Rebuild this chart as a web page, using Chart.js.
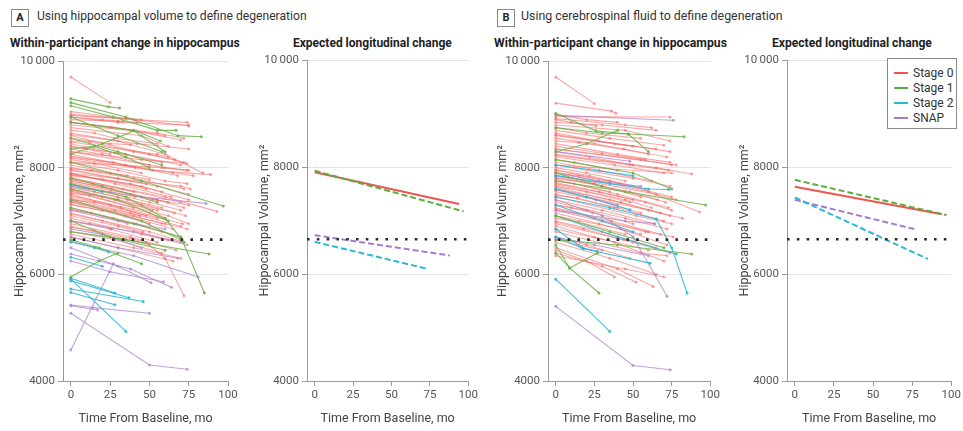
<!DOCTYPE html>
<html><head><meta charset="utf-8">
<script src="https://cdn.jsdelivr.net/npm/chart.js@4.4.1/dist/chart.umd.min.js"></script>
<style>
html,body{margin:0;padding:0;background:#fff;}
#wrap{position:relative;width:963px;height:431px;overflow:hidden;background:#fff;font-family:Roboto,"Liberation Sans",sans-serif;color:#222;}
canvas{position:absolute;top:50px;}
.t{position:absolute;white-space:nowrap;line-height:1;}
.box{position:absolute;width:16px;height:16px;border:1px solid #888;font-weight:bold;font-size:11px;text-align:center;line-height:16px;color:#222;}
#legend{position:absolute;left:887px;top:58px;width:68px;height:69px;border:1px solid #8a8a8a;background:#fff;}
.li{position:absolute;left:6px;height:14px;font-size:12px;line-height:14px;color:#333;}
.li span{display:inline-block;width:14px;height:2px;vertical-align:middle;margin-right:5px;position:relative;top:-1px;}
</style></head>
<body>
<div id="wrap">
  <div class="box" style="left:11px;top:9px;">A</div>
  <div class="box" style="left:497px;top:9px;">B</div>
  <canvas id="cA1" width="240" height="381" style="left:0px"></canvas>
  <canvas id="cA2" width="240" height="381" style="left:240px"></canvas>
  <canvas id="cB1" width="240" height="381" style="left:482px"></canvas>
  <canvas id="cB2" width="241" height="381" style="left:722px"></canvas>
  <div id="legend"></div>
</div>
<script>
// ---------------- DATA ----------------
const xTicks = [0, 25, 50, 75, 100];
const yTicks = [4000, 6000, 8000, 10000];
const threshold = 6650;
const stageNames = ['Stage 0', 'Stage 1', 'Stage 2', 'SNAP'];

// Individual trajectories: [month, volume, month, volume, ...]
const A_stage0 = [
 [0,9700,25,9220],[0,9050,27,8950,45,8900],[0,9000,40,8900,74,8850],[0,8980,35,8920,75,8780],
 [0,8950,30,8850,75,8800],[0,8950,20,8900,33,8870],[0,8900,30,8870,42,8850],[0,8850,26,8760,60,8600],[0,8850,55,8650,72,8550],
 [0,8800,38,8700,70,8520],[0,8750,45,8600,62,8400],[0,8700,15,8650,28,8550,55,8450],[0,8650,30,8500,60,8250,84,7900],
 [0,8620,42,8450,75,8350],[0,8600,50,8250,72,8100],[0,8550,25,8450,38,8430],[0,8500,12,8480,40,8300,66,8150],[0,8480,55,8250,62,8200],[0,8450,28,8280,58,8100],
 [0,8400,35,8250,70,8050],[0,8400,10,8350,25,8250],[0,8350,20,8250,50,8050],[0,8300,60,8000,74,7950],
 [0,8300,45,8150,74,8080],[0,8250,35,8050,68,7850],[0,8220,65,7900,78,7850],[0,8200,27,8100,41,8000],[0,8180,52,7950,89,7870],
 [0,8150,15,8080,45,7900],[0,8100,30,7950,60,7750,74,7700],[0,8100,58,8000,75,7950],[0,8050,25,7900,50,7780],
 [0,8000,40,7800,72,7600],[0,7980,13,7950,36,7850],[0,7960,30,7800,48,7700],[0,7950,55,7650,75,7500],[0,7900,28,7700,64,7450],
 [0,7900,70,7650,76,7600],[0,7880,45,7650,58,7550],[0,7870,38,7700,75,7400],[0,7850,20,7780,48,7600],[0,7820,33,7600,70,7350],
 [0,7800,60,7450,93,7180],[0,7780,14,7700,40,7550],[0,7760,55,7400,72,7250],[0,7750,26,7600,52,7400,75,7300],[0,7720,38,7500,62,7350],
 [0,7700,50,7350,70,7200],[0,7680,25,7550,41,7450],[0,7650,36,7400,73,7100],[0,7620,15,7550,30,7450,58,7250],
 [0,7600,45,7300,66,7150],[0,7580,28,7400,55,7200],[0,7560,20,7450,52,7200],[0,7550,62,7100,75,6950],[0,7520,12,7480,40,7250],
 [0,7500,32,7250,71,6950],[0,7480,50,7150,60,7050],[0,7450,25,7300,48,7100],[0,7420,38,7150,70,6900],
 [0,7400,15,7350,55,7050],[0,7380,28,7200,44,7100],[0,7360,40,7100,58,6950],[0,7350,60,6950,74,6850],[0,7320,35,7100,65,6850],
 [0,7300,20,7200,50,6950],[0,7250,42,6950,70,6700],[0,7220,27,7050,58,6800],[0,7200,13,7150,36,6950],
 [0,7150,50,6800,72,6600],[0,7130,20,7000,46,6800],[0,7100,30,6900,62,6650],[0,7050,45,6750,74,6550],[0,7000,25,6850,55,6600],
 [0,7000,12,6950,26,6850],[0,6950,38,6700,67,6450],[0,6900,50,6550,60,6300,72,5600],[0,6880,15,6820,48,6600],
 [0,6800,28,6650,58,6400],[0,6750,40,6500,70,6300],[0,6700,30,6500,65,6250]
];
const A_stage1 = [
 [0,9290,24,9140,31,9120],[0,9220,35,8950,68,8600,83,8580],[0,9160,27,8950,55,8700,67,8700],
 [0,8950,30,8600,58,8300],[0,8850,40,8700,57,8500],[0,8550,30,8300,58,8050],[0,8350,15,8400,35,8200,50,8000],
 [0,8250,20,8450,40,8690,60,8300],[0,8100,45,7750,97,7280],[0,7800,20,7650,55,7350],
 [0,7700,35,7450,60,7050,72,6600],[0,7600,30,7400,62,7000],[0,7400,45,7000,70,6650],
 [0,7250,40,6950,70,6700,85,5650],[0,7000,25,6700,60,6450],[0,6800,35,6650,88,6380],
 [0,6650,18,6500,45,6200],[0,5950,18,6250,30,6400]
];
const A_stage2 = [
 [0,7680,20,7550],[0,6620,15,6500,24,6420],[0,6320,20,6150],[0,5925,28,5650],
 [0,5910,35,4930],[0,5880,37,5560],[0,5725,46,5490],[0,5660,28,5430]
];
const A_snap = [
 [0,7650,45,7450,86,7330],[0,7200,30,7000,60,6850],[0,7000,40,6800,70,6600],[0,6850,20,6750,45,6500],
 [0,6700,30,6500,68,6300],[0,6600,40,6350,81,5950],[0,6500,30,6150,51,5840],[0,6380,38,6100,64,5760],
 [0,6250,25,6050,59,5860],[0,5425,14,5375,50,5270],[0,5410,17,5330],[0,5270,50,4300,74,4220],[0,4580,27,6200]
];

const B_stage0 = [
 [0,9700,25,9200],[0,9210,36,9060,39,9020],[0,9000,20,8900,40,8850],[0,8960,74,8950],[0,8920,45,8800,62,8750],
 [0,8900,10,8850,26,8780],[0,8850,30,8800,65,8700],[0,8800,45,8700,74,8500],[0,8750,20,8650,55,8550],
 [0,8700,35,8550,70,8420],[0,8650,28,8500,74,8300],[0,8620,38,8450,65,8350],[0,8600,50,8400],[0,8550,25,8450,60,8250],
 [0,8500,15,8470,44,8350,72,8200],[0,8450,40,8250,74,8100],[0,8400,30,8270,58,8150],[0,8350,78,8050],
 [0,8350,55,8150,75,8050],[0,8300,22,8200,50,8050],[0,8250,65,8000,88,7880],[0,8230,48,8050,73,7950],[0,8200,38,8050,70,7900],
 [0,8150,12,8100,40,7950],[0,8100,28,7950,62,7750],[0,8050,75,7900],[0,8050,50,7800,74,7650],
 [0,8000,20,7900,45,7750],[0,7960,22,7850,58,7600],[0,7950,35,7750,75,7450],[0,7920,60,7550,93,7170],[0,7900,15,7850,42,7700],
 [0,7860,65,7500,78,7400],[0,7850,30,7650,66,7400],[0,7820,48,7550,71,7350],[0,7800,25,7700,55,7450],[0,7780,40,7500,73,7250],
 [0,7750,12,7700,35,7550],[0,7720,58,7350,75,7200],[0,7700,28,7550,50,7400],[0,7680,45,7400,62,7250],
 [0,7650,20,7550,48,7350],[0,7630,42,7350,68,7150],[0,7600,35,7400,74,7100],[0,7580,60,7200,82,7050],[0,7550,26,7400,55,7150],
 [0,7500,40,7250,70,7000],[0,7480,14,7430,38,7250],[0,7450,52,7100,75,6950],[0,7400,30,7200,64,6950],
 [0,7350,45,7050,72,6850],[0,7300,20,7200,50,6950],[0,7300,10,7250,24,7150],[0,7250,36,7000,68,6750],[0,7230,25,7050,60,6800],
 [0,7200,58,6800,76,6700],[0,7150,28,6950,55,6750],[0,7100,42,6850,72,6550],[0,7050,15,6980,45,6750],
 [0,7000,30,6800,65,6500],[0,6980,18,6850,44,6650],[0,6950,50,6600,74,6400],[0,6900,25,6700,60,6450],[0,6850,38,6600,70,6250],
 [0,6800,55,6400,72,6350],[0,6700,20,6550,48,6300],[0,6650,15,6550,30,6450],[0,6600,35,6300,65,6000],
 [0,6500,40,6100,63,5770],[0,6450,20,6250,38,5950],[0,6400,30,6150,52,5850],[0,6350,45,6100,70,5950]
];
const B_stage1 = [
 [0,9020,26,8690,47,8630,83,8580],[0,8750,30,8650,47,8630,60,8300],[0,8300,20,8450,40,8700],
 [0,8150,50,7900,75,7600],[0,7900,30,7650],[0,7750,45,7550,97,7300],[0,7100,35,6800,70,6500],
 [0,6650,40,6550,88,6380],[0,6550,9,6120,27,6400],[0,6400,9,6120,28,5650]
];
const B_stage2 = [
 [0,8050,50,7850],[0,7850,35,7700,60,7600,73,7590],[0,7600,20,7450,48,7210],
 [0,7450,35,7250,65,7040,75,6500,85,5650],[0,7300,30,7000,50,6800],[0,7100,40,6700,78,6380],
 [0,6850,17,6500,27,6430],[0,6700,18,6480,61,6210],[0,5910,35,4930]
];
const B_snap = [
 [0,8980,76,8890],[0,8300,48,8120],[0,7900,28,7750,55,7650],[0,7600,40,7300],
 [0,7400,30,7100,50,6700,72,5590],[0,7200,45,7000,64,6950],[0,6700,25,6550,60,6350],
 [0,5400,50,4290,74,4210]
];

// Expected longitudinal change (fitted lines): [[month, volume], [month, volume]]
const A_exp_stage0 = [[0,7900],[94,7310]];
const A_exp_stage1 = [[0,7930],[97,7170]];
const A_exp_stage2 = [[0,6600],[73,6100]];
const A_exp_snap   = [[0,6725],[88,6345]];
const B_exp_stage0 = [[0,7630],[94,7115]];
const B_exp_stage1 = [[0,7760],[97,7100]];
const B_exp_stage2 = [[0,7430],[85,6280]];
const B_exp_snap   = [[0,7385],[77,6835]];

// ---------------- STYLE ----------------
const FONT = 'Roboto,"Liberation Sans",sans-serif';
const trajColors = ['rgba(240,100,96,0.55)','rgba(105,178,70,0.85)','rgba(38,180,214,0.85)','rgba(172,132,210,0.75)'];
const expColors  = ['#ef5550','#5aae3c','#2cb8d2','#a57bd0'];

function toPts(flat){ const p=[]; for(let i=0;i<flat.length;i+=2) p.push({x:flat[i],y:flat[i+1]}); return p; }
function spaghetti(list, stage){
  return list.map(f => ({label:stageNames[stage], data:toPts(f), showLine:true,
    borderColor:trajColors[stage], backgroundColor:trajColors[stage], borderWidth:1.1,
    pointRadius:1.5, pointBorderWidth:0, pointHoverRadius:0}));
}
function expLine(pairs, stage){
  return {label:stageNames[stage], data:pairs.map(p=>({x:p[0],y:p[1]})), showLine:true,
    borderColor:expColors[stage], backgroundColor:expColors[stage], borderWidth:2,
    borderDash: stage===0 ? [] : [6,3], pointRadius:0};
}
function thresholdLine(){
  return {label:'threshold', data:[{x:-5,y:threshold},{x:101,y:threshold}], showLine:true,
    borderColor:'#2a2a2a', borderWidth:2.6, borderDash:[2.6,7.2], borderCapStyle:'butt', pointRadius:0};
}

function makeChart(id, datasets, g){
  new Chart(document.getElementById(id), {
    type:'scatter',
    data:{datasets},
    options:{
      responsive:false, animation:false, events:[],
      layout:{padding:{top:g.padTop, right:g.padRight, left:0, bottom:0}},
      plugins:{legend:{display:false}, tooltip:{enabled:false}},
      scales:{
        x:{type:'linear', min:-5, max:100,
          afterBuildTicks:s=>{ s.ticks = xTicks.map(v=>({value:v})); },
          afterFit:s=>{ s.height = 50; },
          grid:{drawOnChartArea:false, drawTicks:true, tickLength:5, tickColor:'#9a9a9a'},
          border:{color:'#9a9a9a', width:1},
          ticks:{color:'#555', font:{family:FONT, size:11.5}, padding:2, maxRotation:0, autoSkip:false},
          title:{display:true, text:'Time From Baseline, mo', color:'#444', font:{family:FONT, size:12.5}, padding:{top:0,bottom:5}}
        },
        y:{type:'linear', min:4000, max:10000,
          afterBuildTicks:s=>{ s.ticks = yTicks.map(v=>({value:v})); },
          afterFit:s=>{ s.width = g.yW; },
          grid:{color:'#e4e4e4', tickColor:'#9a9a9a', tickLength:5, drawTicks:true},
          border:{color:'#9a9a9a', width:1},
          ticks:{color:'#555', font:{family:FONT, size:11.5}, padding:3,
            callback:v => v>=10000 ? '10\u2009000' : String(v)},
          title:{display:true, text:'Hippocampal Volume, mm\u00B2', color:'#444', font:{family:FONT, size:12.5}, padding:{top:g.yTitlePad,bottom:0}}
        }
      }
    }
  });
}

const dsA1 = [thresholdLine(), ...spaghetti(A_stage1,1), ...spaghetti(A_stage2,2), ...spaghetti(A_snap,3), ...spaghetti(A_stage0,0)];
const dsA2 = [thresholdLine(), expLine(A_exp_stage1,1), expLine(A_exp_stage0,0), expLine(A_exp_snap,3), expLine(A_exp_stage2,2)];
const dsB1 = [thresholdLine(), ...spaghetti(B_stage1,1), ...spaghetti(B_stage2,2), ...spaghetti(B_snap,3), ...spaghetti(B_stage0,0)];
const dsB2 = [thresholdLine(), expLine(B_exp_stage1,1), expLine(B_exp_stage0,0), expLine(B_exp_stage2,2), expLine(B_exp_snap,3)];

makeChart('cA1', dsA1, {padTop:11, padRight:12, yW:63, yTitlePad:12});
makeChart('cA2', dsA2, {padTop:10, padRight:9,  yW:67, yTitlePad:17});
makeChart('cB1', dsB1, {padTop:11, padRight:9,  yW:66, yTitlePad:13});
makeChart('cB2', dsB2, {padTop:10, padRight:11, yW:65, yTitlePad:15});

// ---------------- TEXT ----------------
const mctx = document.createElement('canvas').getContext('2d');
function place(text, x, cy, w, bold){
  mctx.font = (bold?'bold ':'') + '100px ' + FONT;
  const size = 100 * w / mctx.measureText(text).width;
  const d = document.createElement('div');
  d.className = 't'; d.textContent = text;
  d.style.fontFamily = FONT; d.style.fontWeight = bold ? 'bold' : 'normal';
  d.style.fontSize = size + 'px'; d.style.left = x + 'px'; d.style.top = (cy - size*0.55) + 'px';
  d.style.color = bold ? '#222' : '#333';
  document.getElementById('wrap').appendChild(d);
}
place('Using hippocampal volume to define degeneration', 37, 17, 270, false);
place('Using cerebrospinal fluid to define degeneration', 521, 17, 262, false);
place('Within-participant change in hippocampus', 10, 44, 230, true);
place('Expected longitudinal change', 293, 44, 159, true);
place('Within-participant change in hippocampus', 494, 44, 233, true);
place('Expected longitudinal change', 772, 44, 160, true);

const leg = document.getElementById('legend');
stageNames.forEach((n,i)=>{
  const d = document.createElement('div'); d.className='li'; d.style.top = (7 + i*15) + 'px';
  d.innerHTML = '<span style="background:'+expColors[i]+'"></span>' + n;
  leg.appendChild(d);
});
</script>
</body></html>
